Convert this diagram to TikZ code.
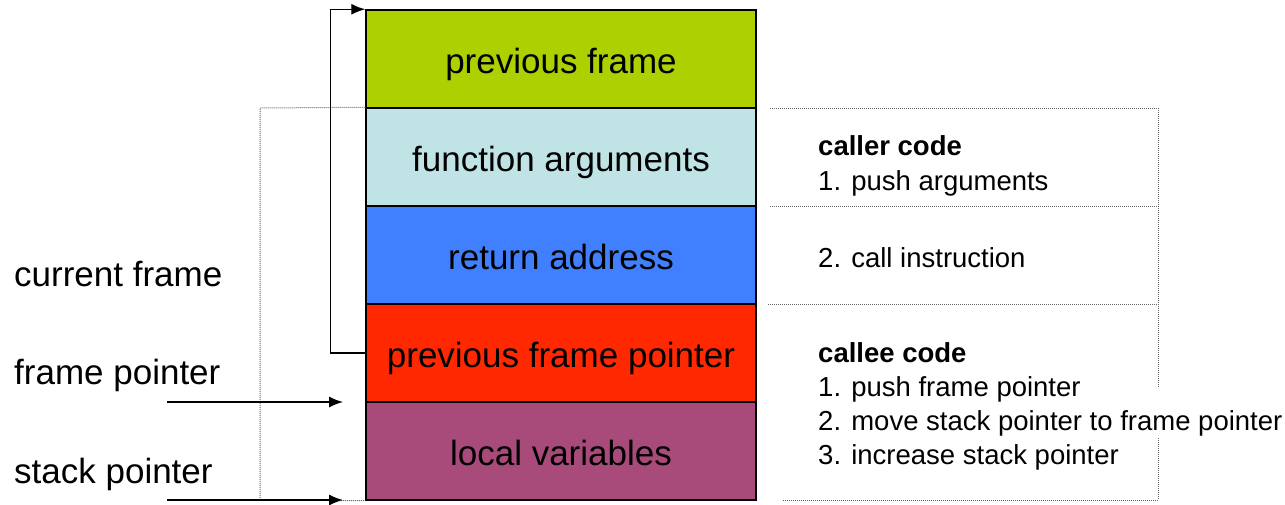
\documentclass[tikz,border=0pt]{standalone}
\usepackage{fontspec}
\setmainfont{Liberation Sans}
\usetikzlibrary{arrows.meta}
\definecolor{cgreen}{RGB}{172,208,0}
\definecolor{clblue}{RGB}{192,228,230}
\definecolor{cblue}{RGB}{64,128,255}
\definecolor{cred}{RGB}{255,40,0}
\definecolor{cpurple}{RGB}{168,74,122}
\tikzset{
  cell/.style={draw=black, line width=1.5pt, minimum width=390pt, minimum height=98pt,
    inner sep=0pt, text height=28pt, text depth=0pt, font=\fontsize{35}{42}\selectfont},
  biglabel/.style={anchor=base west, inner sep=0pt, font=\fontsize{35}{42}\selectfont},
  note/.style={anchor=base west, inner sep=0pt, font=\fontsize{27.5}{33}\selectfont},
  arr/.style={line width=1.3pt, -{Latex[length=14pt,width=11pt]}},
  dots/.style={draw=black!60, line width=1pt, dash pattern=on 1pt off 1pt}
}
\begin{document}
\begin{tikzpicture}[x=1pt,y=-1pt]
\useasboundingbox (0,0) rectangle (1285,504);
% stack cells
\node[cell, fill=cgreen]  (pf)  at (561,59)  {previous frame};
\node[cell, fill=clblue]  (fa)  at (561,157) {function arguments};
\node[cell, fill=cblue]   (ra)  at (561,255) {return address};
\node[cell, fill=cred]    (pfp) at (561,353) {previous frame pointer};
\node[cell, fill=cpurple] (lv)  at (561,451) {local variables};
% dotted frame
\draw[dots] (fa.north west) -- (260,108) -- (260,500) -- (lv.south west);
\draw[dots] (770,108) -- (1158,108) -- (1158,388);
\draw[dots] (1158,438) -- (1158,500) -- (782,500);
\draw[dots] (770,206) -- (1158,206);
\draw[dots] (768,304) -- (1158,304);
% left labels
\node[biglabel] (cf) at (14,286) {current frame};
\node[biglabel] (fp) at (14,384) {frame pointer};
\node[biglabel] (sp) at (14,483) {stack pointer};
% arrows
\coordinate (fpstart) at (167,402);
\coordinate (spstart) at (167,500);
\coordinate (fptip) at (343,402);
\coordinate (sptip) at (343,500);
\draw[arr] (pfp.west) -- ++(-35,0) |- (pf.north west);
\draw[arr] (fpstart) -- (fptip);
\draw[arr] (spstart) -- (sptip);
% right notes
\node[note] (n1) at (818,155) {\bfseries caller code};
\node[note] (n2) at (818,190) {1. push arguments};
\node[note] (n3) at (818,267) {2. call instruction};
\node[note] (n4) at (818,362) {\bfseries callee code};
\node[note] (n5) at (818,396) {1. push frame pointer};
\node[note] (n6) at (818,430) {2. move stack pointer to frame pointer};
\node[note] (n7) at (818,464) {3. increase stack pointer};
\end{tikzpicture}
\end{document}
